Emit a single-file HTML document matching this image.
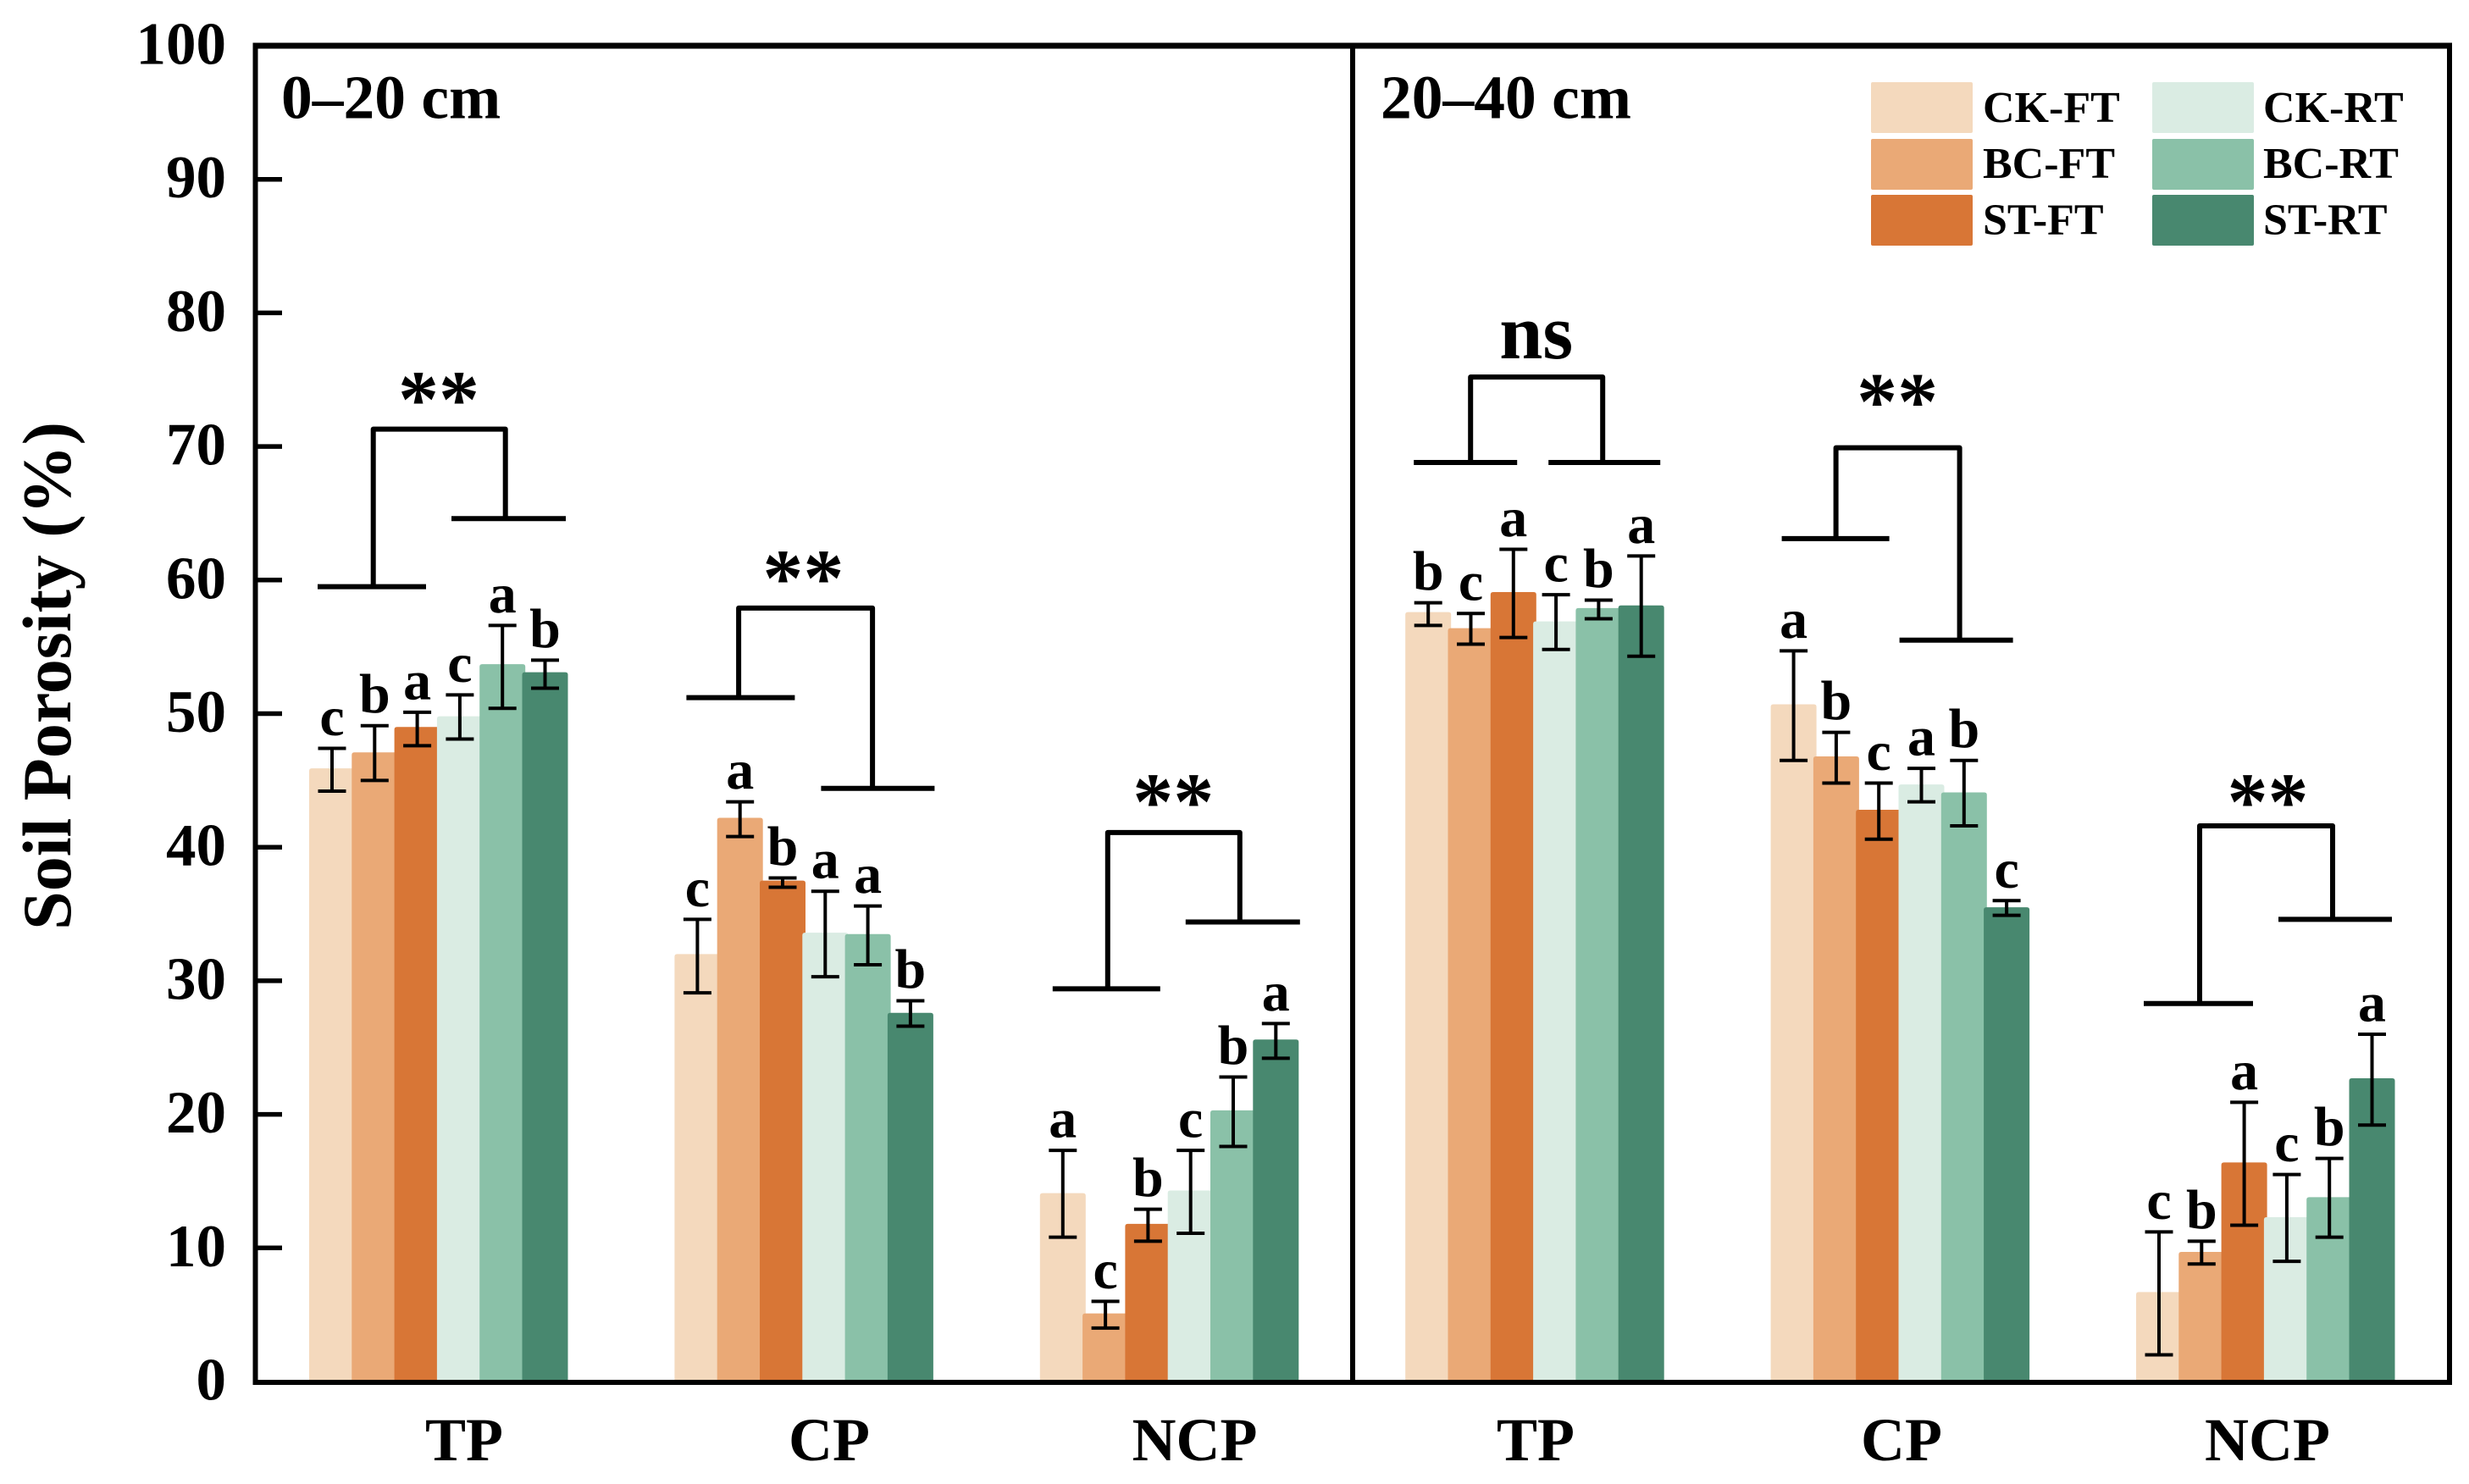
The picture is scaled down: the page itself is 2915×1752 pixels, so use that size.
<!DOCTYPE html>
<html lang="en">
<head>
<meta charset="utf-8">
<title>Soil Porosity</title>
<style>
html,body{margin:0;padding:0;background:#fff;}
body{width:2915px;height:1752px;overflow:hidden;}
svg{display:block;}
text{font-family:"Liberation Serif","Times New Roman",serif;font-weight:bold;fill:#000;}
</style>
</head>
<body>
<svg id="chart" xmlns="http://www.w3.org/2000/svg" width="2915" height="1752" viewBox="0 0 2915 1752"></svg>
<script>
const seriesNames = ['CK-FT','BC-FT','ST-FT','CK-RT','BC-RT','ST-RT'];
const categories = ['TP','CP','NCP','TP','CP','NCP'];
const depthLabels = ['0–20 cm','20–40 cm'];
const yTicks = [0,10,20,30,40,50,60,70,80,90,100];
const yAxisTitle = 'Soil Porosity (%)';

const valuesTP20  = [45.9,47.1,49.0,49.8,53.7,53.1];
const valuesCP20  = [32.0,42.2,37.5,33.6,33.5,27.6];
const valuesNCP20 = [14.1,5.1,11.8,14.3,20.3,25.6];
const valuesTP40  = [57.6,56.4,59.1,56.9,57.9,58.1];
const valuesCP40  = [50.7,46.8,42.8,44.7,44.1,35.5];
const valuesNCP40 = [6.7,9.7,16.4,12.3,13.8,22.7];

const upperTP20  = [47.4,49.1,50.1,51.4,56.6,54.0];
const upperCP20  = [34.6,43.4,37.7,36.7,35.6,28.5];
const upperNCP20 = [17.3,6.0,12.9,17.3,22.8,26.8];
const upperTP40  = [58.3,57.5,62.3,58.9,58.5,61.8];
const upperCP40  = [54.7,48.6,44.8,45.9,46.5,36.0];
const upperNCP40 = [11.2,10.5,20.9,15.5,16.7,26.0];

const lowerTP20  = [44.2,45.0,47.6,48.1,50.4,51.9];
const lowerCP20  = [29.1,40.8,37.0,30.3,31.2,26.6];
const lowerNCP20 = [10.8,4.0,10.5,11.1,17.6,24.2];
const lowerTP40  = [56.6,55.2,55.7,54.8,57.1,54.3];
const lowerCP40  = [46.5,44.8,40.6,43.4,41.6,34.9];
const lowerNCP40 = [2.0,8.8,11.7,9.0,10.8,19.2];

const lettersTP20  = ['c','b','a','c','a','b'];
const lettersCP20  = ['c','a','b','a','a','b'];
const lettersNCP20 = ['a','c','b','c','b','a'];
const lettersTP40  = ['b','c','a','c','b','a'];
const lettersCP40  = ['a','b','c','a','b','c'];
const lettersNCP40 = ['c','b','a','c','b','a'];

const significance = ['**','**','**','ns','**','**'];
const bracketTopLevel   = [71.3,57.9,41.1,75.2,69.9,41.6];
const bracketLeftLevel  = [59.5,51.2,29.4,68.8,63.1,28.3];
const bracketRightLevel = [64.6,44.4,34.4,68.8,55.5,34.6];

const groupValues = [valuesTP20,valuesCP20,valuesNCP20,valuesTP40,valuesCP40,valuesNCP40];
const groupUpper  = [upperTP20,upperCP20,upperNCP20,upperTP40,upperCP40,upperNCP40];
const groupLower  = [lowerTP20,lowerCP20,lowerNCP20,lowerTP40,lowerCP40,lowerNCP40];
const groupLetters= [lettersTP20,lettersCP20,lettersNCP20,lettersTP40,lettersCP40,lettersNCP40];

/* layout and style, kept apart from the data */
const colors = ['#F4D9BD','#EAA976','#D87636','#DAECE3','#8AC1A8','#48886F'];
const plot = {left:301.5, right:2892, mid:1597, top:54, bottom:1631, axisLine:1632};
const footLStart = [10,14,15,10,13,9], footLEnd = [138,142,142,132,140,138];
const footRStart = [168,173,172,169,152,168], footREnd = [303,307,307,301,286,302];
const stemL = [75.7,75.7,80,77,77,75], stemR = [231.7,233.7,236,233,223,232];
const markOffset = [-2.5,-3,-4,-22,-22,4];
const markCenter = [153,152,157.5,154.5,149.5,155.5];
const catLabelX = [548,979,1410.5,1813,2245,2677];

const SVG_NS = 'http://www.w3.org/2000/svg';
const svg = document.getElementById('chart');

function yScale(v){ return plot.bottom - 15.77 * v; }
function groupX(i){ return 365 + 431.4 * i; }
function barX(i,j){ return groupX(i) + 50.3 * j; }
const BAR_W = 54;

function make(tag, attrs, parent){
  const el = document.createElementNS(SVG_NS, tag);
  for (const k in attrs) el.setAttribute(k, attrs[k]);
  (parent || svg).appendChild(el);
  return el;
}
function makeText(str, attrs, parent){
  const el = make('text', attrs, parent);
  el.textContent = str;
  return el;
}
function barPath(x, w, yTop, yBase, r){
  return 'M'+x+' '+yBase+'V'+(yTop+r)+'Q'+x+' '+yTop+' '+(x+r)+' '+yTop+
         'H'+(x+w-r)+'Q'+(x+w)+' '+yTop+' '+(x+w)+' '+(yTop+r)+'V'+yBase+'Z';
}

/* bars */
groupValues.forEach(function(vals, i){
  const g = make('g', {});
  
  
  vals.forEach(function(v, j){
    const b = make('path', {d: barPath(barX(i,j), BAR_W, yScale(v), plot.bottom, 3), fill: colors[j]}, g);
    
    
  });
});

/* error bars and letters */
groupValues.forEach(function(vals, i){
  vals.forEach(function(v, j){
    const cx = barX(i,j) + 27;
    const yU = yScale(groupUpper[i][j]);
    const yL = yScale(groupLower[i][j]);
    const eb = make('path', {
      d: 'M'+cx+' '+yU+'V'+yL+'M'+(cx-16.5)+' '+yU+'H'+(cx+16.5)+'M'+(cx-16.5)+' '+yL+'H'+(cx+16.5),
      fill: 'none', stroke: '#000', 'stroke-width': 4
    });
    
    
    const t = makeText(groupLetters[i][j], {x: cx, y: yU - 15.5, 'text-anchor': 'middle', 'font-size': 66});
    
    
  });
});

/* comparison brackets */
bracketTopLevel.forEach(function(level, i){
  const gx = groupX(i);
  const yT = yScale(level);
  const yLf = yScale(bracketLeftLevel[i]);
  const yRf = yScale(bracketRightLevel[i]);
  const br = make('path', {
    d: 'M'+(gx+stemL[i])+' '+yLf+'V'+yT+'H'+(gx+stemR[i])+'V'+yRf+
       'M'+(gx+footLStart[i])+' '+yLf+'H'+(gx+footLEnd[i])+
       'M'+(gx+footRStart[i])+' '+yRf+'H'+(gx+footREnd[i]),
    fill: 'none', stroke: '#000', 'stroke-width': 6, 'stroke-linejoin': 'round'
  });
  
  
  const isNs = significance[i] === 'ns';
  const m = makeText(significance[i], {
    x: gx + markCenter[i], y: yT + markOffset[i], 'text-anchor': 'middle', 'font-size': isNs ? 92 : 96
  });
  
  
});

/* frame */
const frameTop = make('rect', {x: plot.left - 3, y: plot.top - 3.5, width: plot.right - plot.left + 6, height: 7, fill: '#000'});


const frameBottom = make('rect', {x: plot.left - 3, y: plot.axisLine - 3, width: plot.right - plot.left + 6, height: 6, fill: '#000'});


const frameLeft = make('rect', {x: plot.left - 3, y: plot.top - 3.5, width: 6, height: plot.axisLine - plot.top + 6.5, fill: '#000'});


const frameMid = make('rect', {x: plot.mid - 3, y: plot.top - 3.5, width: 6, height: plot.axisLine - plot.top + 6.5, fill: '#000'});


const frameRight = make('rect', {x: plot.right - 3, y: plot.top - 3.5, width: 6, height: plot.axisLine - plot.top + 6.5, fill: '#000'});



/* y axis */
yTicks.forEach(function(tv){
  const y = yScale(tv);
  if (tv > 0 && tv < 100) {
    const tk = make('line', {x1: plot.left, x2: 333, y1: y, y2: y, stroke: '#000', 'stroke-width': 5.5});
    
    
  }
  const lb = makeText(String(tv), {x: 267, y: y + 21.5, 'text-anchor': 'end', 'font-size': 71});
  
  
});

const yt = makeText(yAxisTitle, {x: 0, y: 0, 'text-anchor': 'middle', 'font-size': 82, transform: 'translate(83 798) rotate(-90)'});



/* x labels */
categories.forEach(function(c, i){
  const t = makeText(c, {x: catLabelX[i], y: 1724, 'text-anchor': 'middle', 'font-size': 72});
  
  
});

/* depth labels */
const d1 = makeText(depthLabels[0], {x: 332, y: 139.5, 'font-size': 73.5});


const d2 = makeText(depthLabels[1], {x: 1630, y: 139.5, 'font-size': 73.5});



/* legend */
const legendX = [2209,2541];
const legendY = [97,164,230];
const legendBase = [144,210,276.5];
const legendTextX = [2341,2672];
seriesNames.forEach(function(n, k){
  const col = k < 3 ? 0 : 1;
  const row = k % 3;
  const g = make('g', {});
  
  
  const sw = make('rect', {x: legendX[col], y: legendY[row], width: 120, height: 60, rx: 2, fill: colors[k]}, g);
  
  
  const tx = makeText(n, {x: legendTextX[col], y: legendBase[row], 'font-size': 52}, g);
  
  
});
</script>
</body>
</html>
